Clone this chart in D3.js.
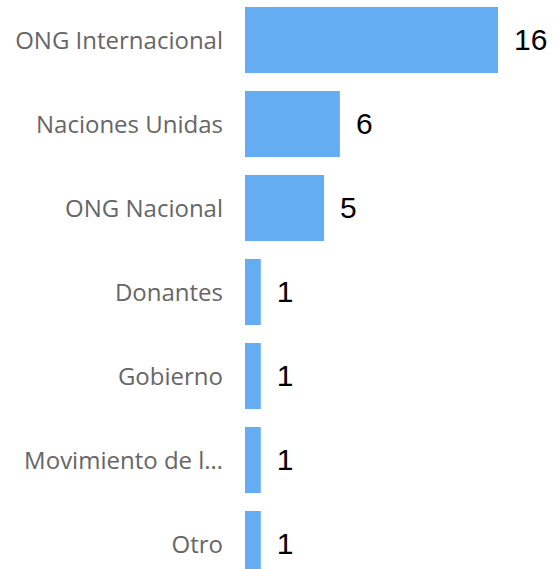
<!DOCTYPE html>
<html>
<head>
<meta charset="utf-8">
<script src="https://cdn.jsdelivr.net/npm/d3@7"></script>
<style>
  html, body { margin: 0; padding: 0; background: #fff; }
  svg { display: block; }
</style>
</head>
<body>
<svg id="chart" width="554" height="569"></svg>
<script>
const categories = ["ONG Internacional", "Naciones Unidas", "ONG Nacional", "Donantes", "Gobierno", "Movimiento de l…", "Otro"];
const values = [16, 6, 5, 1, 1, 1, 1];
const data = categories.map((c, i) => ({ c, v: values[i] }));

const svg = d3.select("#chart");
const x = d3.scaleLinear().domain([0, 16]).range([245, 498]);
const y = d3.scaleBand().domain(categories).range([-2, 586]).paddingInner(18 / 84).paddingOuter(9 / 84);

svg.selectAll("rect.bar").data(data).join("rect")
  .attr("class", "bar")
  .attr("x", x(0))
  .attr("y", d => y(d.c))
  .attr("width", d => x(d.v) - x(0))
  .attr("height", y.bandwidth())
  .attr("fill", "#64adf3");

svg.selectAll("text.cat").data(data).join("text")
  .attr("class", "cat")
  .attr("x", 223)
  .attr("y", d => y(d.c) + y.bandwidth() / 2 + 8.5)
  .attr("text-anchor", "end")
  .attr("font-family", "'Open Sans', 'Noto Sans', sans-serif")
  .attr("font-size", 24)
  .attr("fill", "#666666")
  .text(d => d.c);

svg.selectAll("text.val").data(data).join("text")
  .attr("class", "val")
  .attr("x", d => x(d.v) + 16)
  .attr("y", d => y(d.c) + y.bandwidth() / 2 + 10)
  .attr("font-family", "'Liberation Sans', Arial, sans-serif")
  .attr("font-size", 30)
  .attr("fill", "#000000")
  .text(d => d.v);
</script>
</body>
</html>
